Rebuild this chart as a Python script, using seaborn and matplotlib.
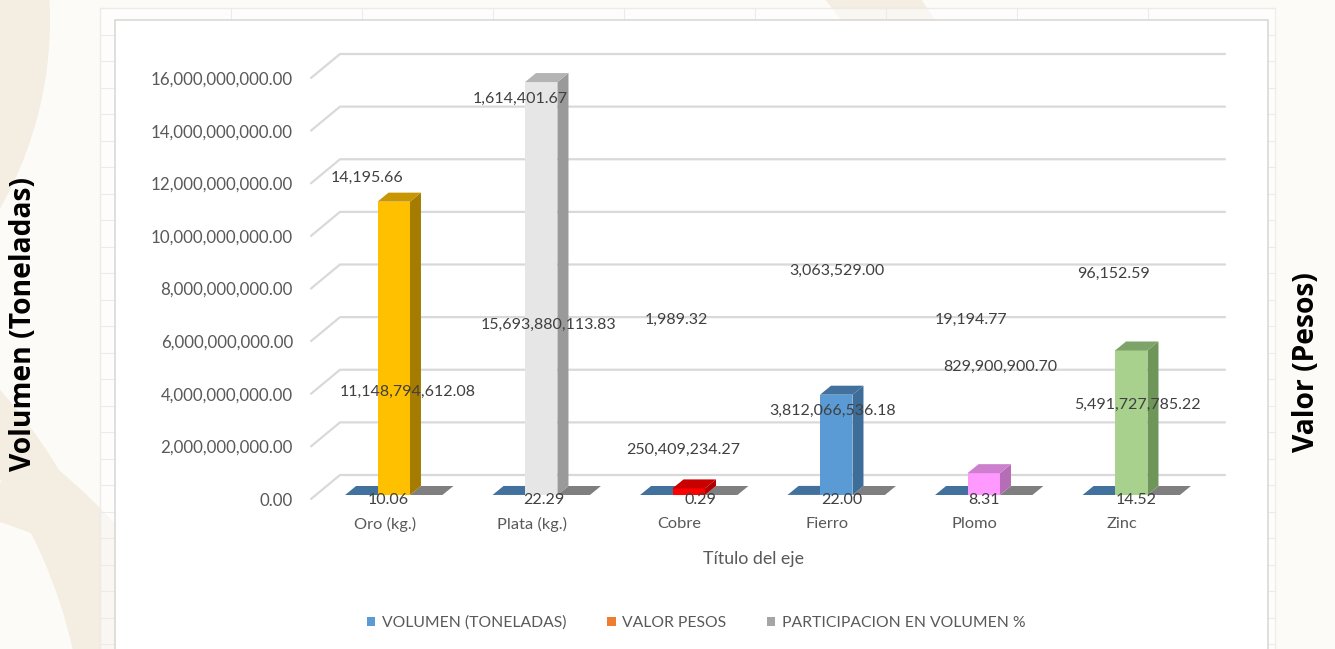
import numpy as np
import pandas as pd
import matplotlib
matplotlib.use("Agg")
import matplotlib.pyplot as plt
import matplotlib.transforms as mtransforms
from matplotlib.patches import Polygon, Rectangle, Wedge, Patch
from matplotlib.lines import Line2D
from matplotlib.ticker import FuncFormatter
import seaborn as sns

# ---------------- data ----------------
minerales = ["Oro (kg.)", "Plata (kg.)", "Cobre", "Fierro", "Plomo", "Zinc"]
volumen = [14195.66, 1614401.67, 1989.32, 3063529.00, 19194.77, 96152.59]
valor = [11148794612.08, 15693880113.83, 250409234.27, 3812066536.18,
         829900900.70, 5491727785.22]
participacion = [10.06, 22.29, 0.29, 22.00, 8.31, 14.52]
series = ["VOLUMEN (TONELADAS)", "VALOR PESOS", "PARTICIPACION EN VOLUMEN %"]
y_ticks = [0, 2e9, 4e9, 6e9, 8e9, 10e9, 12e9, 14e9, 16e9]

# ---------------- styles / layout ----------------
legend_colors = ["#5B9BD5", "#ED7D31", "#A5A5A5"]
slab_top = ["#41719C", None, "#7F7F7F"]
front_cols = ["#FFC000", "#E7E6E6", "#FF0000", "#5B9BD5", "#FF99FF", "#A9D18E"]
side_cols = ["#A67C00", "#9A9A9A", "#B00000", "#3D6D99", "#B56EB5", "#6F9659"]
top_cols = ["#C79600", "#B4B4B4", "#C80000", "#41719C", "#CC7FCC", "#7EA369"]
# label positions: x offset from category (category units), y in axis units
vol_lab = [(-0.12, 12.20e9), (-0.08, 15.20e9), (-0.025, 6.80e9),
           (0.066, 8.67e9), (-0.025, 6.80e9), (-0.056, 8.55e9)]
val_lab = [(0.158, 4.07e9), (0.107, 6.61e9), (0.022, 1.86e9),
           (0.039, 3.34e9), (0.171, 5.02e9), (0.10, 3.57e9)]
par_lab = [(0.022, -0.05e9), (0.08, -0.05e9), (0.137, -0.05e9),
           (0.10, -0.05e9), (0.063, -0.05e9), (0.093, -0.05e9)]

sns.set_theme(style="white")
plt.rcParams["font.family"] = ["Lato", "DejaVu Sans"]

W, H = 1335, 649
fig = plt.figure(figsize=(W / 100, H / 100), dpi=100)
fig.patch.set_facecolor("#FDFBF8")

# ---------------- decorative slide background ----------------
bg = fig.add_axes([0, 0, 1, 1], zorder=-5)
bg.set_xlim(0, W)
bg.set_ylim(H, 0)
bg.axis("off")
rib = "#F4EDE1"
for (cx, cy, r, w, t1, t2) in [(-330, 20, 380, 55, -60, 60),
                               (-420, 760, 560, 55, -80, 10),
                               (-300, 900, 560, 42, -70, 0),
                               (-150, 980, 520, 38, -80, 0),
                               (1700, -500, 980, 55, 120, 200),
                               (1650, -650, 1050, 45, 120, 200),
                               (1900, 1100, 720, 60, 180, 240)]:
    bg.add_patch(Wedge((cx, cy), r, t1, t2, width=w, facecolor=rib,
                       edgecolor="none", zorder=0.1))
# spreadsheet backdrop with faint cell grid
bg.add_patch(Rectangle((100, 8), 1175, H, facecolor="white", alpha=0.55,
                       edgecolor="#E3E3E3", lw=1, zorder=0.3))
for xc in np.arange(100, 1276, 131):
    bg.plot([xc, xc], [8, H], color="#EBEBEB", lw=0.8, zorder=0.4)
for yc in np.arange(8, H, 26.5):
    bg.plot([100, 1275], [yc, yc], color="#EBEBEB", lw=0.8, zorder=0.4)
# chart area
bg.add_patch(Rectangle((115, 20), 1153, H, facecolor="white",
                       edgecolor="#D9D9D9", lw=1.2, zorder=1))

# ---------------- main axes ----------------
ax = fig.add_axes([311 / W, 150 / H, 885 / W, 421 / H], zorder=1)
ax.set_facecolor("none")

df = pd.DataFrame({
    "Mineral": minerales * 3,
    "Serie": np.repeat(series, len(minerales)),
    "Valor": volumen + valor + participacion,
})
sns.barplot(data=df, x="Mineral", y="Valor", hue="Serie", order=minerales,
            hue_order=series, palette=legend_colors, width=0.66, gap=0,
            dodge=True, errorbar=None, saturation=1, linewidth=0,
            legend=False, ax=ax)
ax.set_xlim(-0.5, 5.5)
ax.set_ylim(0, 16e9)

p0 = ax.transData.transform((0, 0))
p1 = ax.transData.transform((1, 1e9))
px_x = p1[0] - p0[0]
px_y = (p1[1] - p0[1]) / 1e9

# back-wall gridlines with side-wall diagonals
gdx, gdy = 29 / px_x, 24 / px_y
for v in y_ticks:
    ax.add_line(Line2D([-0.5, -0.5 + gdx, 5.5 + gdx], [v, v + gdy, v + gdy],
                       color="#D9D9D9", lw=1.6, clip_on=False, zorder=0.5))

# pseudo 3D bars
off = mtransforms.ScaledTranslation(9 / 100, 4 / 100, fig.dpi_scale_trans)
btr = ax.transData + off
ddx, ddy = 11 / px_x, 9 / px_y
order_draw = [0, 2, 1]
for zi, k in enumerate(order_draw):
    cont = ax.containers[k]
    for i, p in enumerate(cont.patches):
        x0 = p.get_x()
        x1 = x0 + p.get_width()
        h = p.get_height()
        z = 2 + zi
        p.set_transform(btr)
        p.set_clip_on(False)
        p.set_zorder(z)
        if k == 1:
            p.set_facecolor(front_cols[i])
            sc, tc = side_cols[i], top_cols[i]
        else:
            p.set_facecolor(slab_top[k])
            sc, tc = slab_top[k], slab_top[k]
        side = Polygon([(x1, 0), (x1, h), (x1 + ddx, h + ddy), (x1 + ddx, ddy)],
                       closed=True, facecolor=sc, edgecolor="none",
                       transform=btr, clip_on=False, zorder=z)
        top = Polygon([(x0, h), (x1, h), (x1 + ddx, h + ddy), (x0 + ddx, h + ddy)],
                      closed=True, facecolor=tc, edgecolor="none",
                      transform=btr, clip_on=False, zorder=z)
        ax.add_patch(side)
        ax.add_patch(top)

# data labels
lab_col = "#404040"
fs = 11.5
for i in range(len(minerales)):
    ax.text(i + vol_lab[i][0], vol_lab[i][1], f"{volumen[i]:,.2f}", ha="center",
            va="center", color=lab_col, fontsize=fs, zorder=10, clip_on=False)
    ax.text(i + val_lab[i][0], val_lab[i][1], f"{valor[i]:,.2f}", ha="center",
            va="center", color=lab_col, fontsize=fs, zorder=10, clip_on=False)
    ax.text(i + par_lab[i][0], par_lab[i][1], f"{participacion[i]:,.2f}",
            ha="center", va="center", color=lab_col, fontsize=fs, zorder=10,
            clip_on=False)

# axes styling
ax.set_yticks(y_ticks)
ax.yaxis.set_major_formatter(FuncFormatter(lambda v, _: f"{v:,.2f}"))
ax.tick_params(axis="y", length=0, pad=13, labelsize=12.2, labelcolor="#595959")
ax.tick_params(axis="x", length=0, pad=13, labelsize=11.8, labelcolor="#595959")
for s in ax.spines.values():
    s.set_visible(False)
ax.grid(False)
ax.set_ylabel("")
ax.set_xlabel("Título del eje", fontsize=12.8, color="#595959")
ax.xaxis.set_label_coords(0.5, (499 - 559) / 421)
ax.xaxis.label.set_va("center")

# legend
handles = [Patch(facecolor=c, edgecolor="none") for c in legend_colors]
leg = fig.legend(handles, series, loc="center",
                 bbox_to_anchor=(696 / W, 1 - 623 / H), ncol=3, frameon=False,
                 handlelength=0.55, handleheight=0.55, handletextpad=0.4,
                 columnspacing=2.6, fontsize=11.3)
for t in leg.get_texts():
    t.set_color("#595959")

# outer slide titles
fig.text(24 / W, 1 - 324 / H, "Volumen (Toneladas)", rotation=90,
         fontsize=20.3, fontweight="bold", ha="center", va="center",
         family=["Open Sans", "DejaVu Sans"], color="black")
fig.text(1307 / W, 1 - 362 / H, "Valor (Pesos)", rotation=90,
         fontsize=20.3, fontweight="bold", ha="center", va="center",
         family=["Open Sans", "DejaVu Sans"], color="black")

fig.savefig("out.png", dpi=100, facecolor=fig.get_facecolor())
